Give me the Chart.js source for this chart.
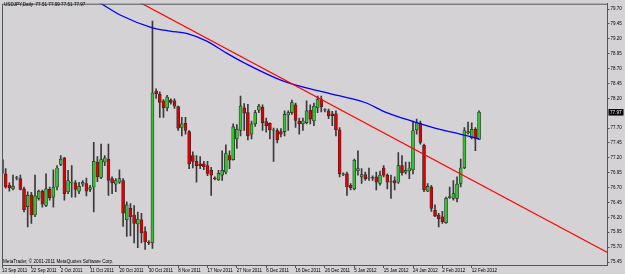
<!DOCTYPE html>
<html>
<head>
<meta charset="utf-8">
<title>USDJPY Daily</title>
<script src="https://cdn.jsdelivr.net/npm/chart.js@4.4.1/dist/chart.umd.min.js"></script>
<style>
  html, body { margin: 0; padding: 0; background: #d4d2d4; }
  canvas { display: block; }
</style>
</head>
<body>
<canvas id="chart" width="625" height="274"></canvas>
<script>
const headerText = 'USDJPY,Daily  77.51 77.99 77.51 77.97';
const footerText = 'MetaTrader, \u00a9 2001-2011 MetaQuotes Software Corp.';

// one candle per bar, 13 Sep 2011 .. 14 Feb 2012
const open = [
  77.17, 76.93, 76.74, 76.68, 76.86, 76.85, 76.68, 76.38, 76.58, 76.24,
  76.52, 76.64, 76.40, 76.67, 76.54, 76.71, 77.09, 77.20, 76.63, 76.78,
  76.78, 76.64, 76.76, 76.77, 76.67, 76.71, 77.13, 76.87, 77.13, 77.18,
  76.85, 76.76, 76.79, 76.82, 76.16, 76.35, 76.24, 76.09, 76.16, 75.96,
  75.78, 75.77, 78.32, 78.27, 78.16, 78.04, 78.17, 78.16, 78.06, 77.71,
  77.78, 77.64, 77.24, 77.14, 77.10, 77.10, 77.07, 76.99, 76.86, 76.83,
  76.91, 76.96, 77.24, 77.17, 77.52, 77.66, 78.04, 77.96, 77.60, 77.77,
  78.00, 78.05, 77.81, 77.78, 77.66, 77.66, 77.64, 77.64, 77.92, 77.96,
  78.09, 77.82, 77.77, 77.79, 78.00, 77.82, 78.04, 78.18, 78.00, 77.99,
  77.94, 77.94, 77.67, 76.92, 76.93, 76.74, 76.68, 76.98, 76.88, 76.92,
  76.86, 76.87, 76.88, 76.77, 77.03, 76.91, 76.79, 76.82, 76.79, 77.07,
  76.96, 76.98, 77.00, 77.67, 77.78, 77.41, 76.64, 76.71, 76.32, 76.24,
  76.21, 76.11, 76.53, 76.52, 76.52, 76.77, 77.03, 77.62, 77.54, 77.68,
  77.51
];
const high = [
  77.24, 77.02, 76.78, 76.91, 76.89, 76.91, 76.71, 76.63, 76.62, 76.91,
  76.66, 76.66, 76.93, 76.71, 77.00, 77.07, 77.24, 77.21, 76.99, 77.07,
  76.82, 76.79, 76.82, 76.86, 76.74, 77.46, 77.22, 77.43, 77.24, 77.43,
  76.88, 76.85, 77.00, 76.85, 76.46, 76.43, 76.40, 76.29, 76.27, 76.04,
  75.81, 79.50, 78.36, 78.31, 78.18, 78.25, 78.19, 78.19, 78.07, 77.88,
  77.88, 77.66, 77.30, 77.24, 77.22, 77.14, 77.14, 77.04, 76.88, 76.99,
  77.32, 77.42, 77.32, 77.77, 77.76, 78.24, 78.11, 78.10, 77.82, 78.00,
  78.10, 78.09, 77.87, 77.79, 77.70, 77.69, 77.69, 77.99, 77.99, 78.17,
  78.12, 77.87, 77.87, 78.16, 78.09, 78.12, 78.24, 78.24, 78.03, 78.02,
  77.98, 77.99, 77.71, 76.95, 76.96, 76.77, 77.18, 77.32, 77.02, 76.96,
  77.03, 76.90, 76.96, 76.98, 77.07, 76.93, 76.91, 76.88, 77.29, 77.24,
  77.13, 77.13, 77.82, 77.85, 77.82, 77.43, 76.77, 76.74, 76.41, 76.27,
  76.30, 76.54, 76.71, 76.82, 76.88, 77.18, 77.71, 77.80, 77.79, 77.71,
  77.99
];
const low = [
  76.79, 76.69, 76.64, 76.66, 76.83, 76.66, 76.29, 76.04, 76.10, 76.21,
  76.49, 76.37, 76.38, 76.49, 76.37, 76.66, 77.07, 76.49, 76.60, 76.54,
  76.54, 76.60, 76.72, 76.56, 76.63, 76.29, 76.80, 76.85, 77.07, 76.57,
  76.60, 76.63, 76.77, 76.05, 75.88, 75.89, 75.77, 75.69, 75.77, 75.66,
  75.74, 75.68, 78.20, 77.88, 77.88, 77.99, 78.10, 78.03, 77.66, 77.57,
  77.60, 77.02, 77.03, 76.79, 77.02, 77.00, 76.90, 76.57, 76.83, 76.82,
  76.82, 76.93, 77.02, 77.16, 77.36, 77.57, 77.66, 77.50, 77.52, 77.73,
  77.96, 77.66, 77.63, 77.52, 77.14, 77.45, 77.55, 77.57, 77.66, 77.93,
  77.71, 77.60, 77.66, 77.77, 77.77, 77.74, 77.96, 77.97, 77.97, 77.86,
  77.74, 77.57, 76.88, 76.90, 76.57, 76.66, 76.66, 76.91, 76.77, 76.82,
  76.82, 76.82, 76.66, 76.74, 76.88, 76.68, 76.52, 76.66, 76.77, 76.91,
  76.93, 76.85, 76.93, 77.60, 77.43, 76.63, 76.63, 76.30, 76.21, 76.04,
  76.10, 76.10, 76.52, 76.49, 76.46, 76.71, 77.02, 77.60, 77.52, 77.32,
  77.51
];
const close = [
  76.94, 76.71, 76.70, 76.72, 76.87, 76.67, 76.33, 76.57, 76.24, 76.56,
  76.64, 76.42, 76.68, 76.53, 76.71, 77.03, 77.18, 76.60, 76.82, 76.79,
  76.67, 76.72, 76.79, 76.64, 76.70, 77.14, 76.88, 77.17, 77.20, 76.82,
  76.78, 76.82, 76.85, 76.27, 76.41, 76.21, 76.10, 76.17, 75.94, 75.79,
  75.77, 78.29, 78.28, 78.13, 78.04, 78.22, 78.13, 78.07, 77.70, 77.77,
  77.66, 77.10, 77.14, 77.07, 77.07, 77.05, 76.94, 76.91, 76.85, 76.94,
  76.99, 77.27, 77.16, 77.72, 77.68, 78.07, 77.95, 77.57, 77.77, 77.96,
  78.07, 77.79, 77.74, 77.67, 77.67, 77.50, 77.60, 77.93, 77.96, 78.13,
  77.83, 77.77, 77.82, 77.99, 77.85, 78.07, 78.18, 78.06, 78.01, 77.91,
  77.91, 77.67, 76.93, 76.93, 76.71, 76.70, 77.16, 77.02, 76.92, 76.85,
  76.87, 76.86, 76.79, 76.91, 76.91, 76.79, 76.80, 76.78, 77.07, 76.95,
  76.99, 77.03, 77.66, 77.79, 77.46, 76.66, 76.72, 76.35, 76.22, 76.18,
  76.13, 76.52, 76.55, 76.60, 76.76, 77.03, 77.66, 77.64, 77.68, 77.52,
  77.97
];

// moving average (blue), read at bar positions
const maBars = [20, 26.2, 32.2, 40.8, 45.8, 50.3, 55.8, 61.2, 66.2, 76.7, 86.6, 92.1, 98.9, 104.8, 112.1, 119.3, 124.8, 130];
const maValues = [80.02, 79.82, 79.60, 79.39, 79.33, 79.29, 79.16, 78.96, 78.79, 78.49, 78.32, 78.24, 78.13, 77.96, 77.81, 77.68, 77.60, 77.52];

// red trend line, two anchors
const trendBars = [30, 165];
const trendValues = [80.06, 75.61];

const xTickBars = [0, 8, 16, 24, 32, 40, 48, 56, 64, 72, 80, 88, 96, 104, 112, 120, 128];
const xTickLabels = ['13 Sep 2011', '22 Sep 2011', '2 Oct 2011', '11 Oct 2011', '20 Oct 2011', '30 Oct 2011',
  '8 Nov 2011', '17 Nov 2011', '27 Nov 2011', '6 Dec 2011', '16 Dec 2011', '26 Dec 2011',
  '5 Jan 2012', '15 Jan 2012', '24 Jan 2012', '2 Feb 2012', '12 Feb 2012'];
const yTickValues = [79.70, 79.45, 79.20, 78.95, 78.70, 78.45, 78.20, 77.70, 77.45, 77.20, 76.95, 76.70, 76.45, 76.20, 75.95, 75.70, 75.45];
const lastPrice = 77.97;

const bg = '#d4d2d4';
const frameColor = '#4e5858';
const bullColor = '#2fc52f';
const bearColor = '#e00000';
const tinyFont = { family: '"Liberation Sans", Arial, sans-serif', size: 4.5 };

const mtDecor = {
  id: 'mtDecor',
  beforeDraw(chart) {
    const c = chart.ctx;
    c.save();
    c.fillStyle = bg;
    c.fillRect(0, 0, chart.width, chart.height);
    c.restore();
  },
  afterDraw(chart) {
    const c = chart.ctx;
    const a = chart.chartArea;
    const y = chart.scales.y;
    c.save();
    // left + top frame lines
    c.strokeStyle = frameColor;
    c.lineWidth = 1;
    c.beginPath();
    c.moveTo(a.left + 0.5, a.bottom);
    c.lineTo(a.left + 0.5, a.top + 0.5);
    c.lineTo(a.right, a.top + 0.5);
    c.stroke();

    c.fillStyle = '#000';
    c.font = '4.6px "Liberation Sans", Arial, sans-serif';
    c.textBaseline = 'middle';
    c.textAlign = 'left';
    c.fillText(headerText, 4, 5);
    c.fillText(footerText, 3, 261.5);

    // current price box
    const py = y.getPixelForValue(lastPrice);
    c.fillStyle = '#000';
    c.fillRect(a.right + 1, py - 3, 15, 6.5);
    c.fillStyle = '#fff';
    c.font = '4.6px "Liberation Sans", Arial, sans-serif';
    c.fillText(lastPrice.toFixed(2), a.right + 2.5, py + 0.3);
    c.restore();
  }
};

new Chart(document.getElementById('chart'), {
  type: 'bar',
  data: {
    datasets: [
      {
        type: 'line',
        data: trendBars.map((b, i) => ({ x: b, y: trendValues[i] })),
        borderColor: '#ff0000',
        borderWidth: 1.2,
        pointRadius: 0,
        order: 0
      },
      {
        type: 'line',
        data: maBars.map((b, i) => ({ x: b, y: maValues[i] })),
        borderColor: '#0000ff',
        borderWidth: 1.3,
        pointRadius: 0,
        cubicInterpolationMode: 'monotone',
        order: 1
      },
      {
        data: open.map((o, i) => ({ x: i, y: [o, close[i]] })),
        backgroundColor: open.map((o, i) => close[i] >= o ? bullColor : bearColor),
        borderColor: '#2a2a2a',
        borderWidth: 0.7,
        borderSkipped: false,
        barThickness: 3,
        grouped: false,
        order: 2
      },
      {
        data: low.map((l, i) => ({ x: i, y: [l, high[i]] })),
        backgroundColor: '#3a3a3a',
        borderWidth: 0,
        barThickness: 1,
        grouped: false,
        order: 3
      }
    ]
  },
  options: {
    responsive: false,
    animation: false,
    devicePixelRatio: 1,
    layout: { padding: { left: 2, top: 2, right: 0, bottom: 0 } },
    plugins: { legend: { display: false }, tooltip: { enabled: false } },
    scales: {
      x: {
        type: 'linear',
        min: 0,
        max: 165,
        offset: false,
        afterFit(s) { s.height = 9; },
        afterBuildTicks(s) { s.ticks = xTickBars.map(v => ({ value: v })); },
        ticks: {
          autoSkip: false,
          maxRotation: 0,
          align: 'start',
          padding: 0,
          color: '#000',
          font: tinyFont,
          callback: (v, i) => xTickLabels[i]
        },
        grid: { drawOnChartArea: false, offset: false, tickLength: 3, color: frameColor },
        border: { color: frameColor, width: 1 }
      },
      y: {
        position: 'right',
        min: 75.40,
        max: 79.79,
        afterFit(s) { s.width = 17.5; },
        afterBuildTicks(s) { s.ticks = yTickValues.map(v => ({ value: v })); },
        ticks: {
          padding: 1,
          color: '#000',
          font: tinyFont,
          callback: v => v.toFixed(2)
        },
        grid: { drawOnChartArea: false, tickLength: 2, color: frameColor },
        border: { color: frameColor, width: 1 }
      }
    }
  },
  plugins: [mtDecor]
});
</script>
</body>
</html>
